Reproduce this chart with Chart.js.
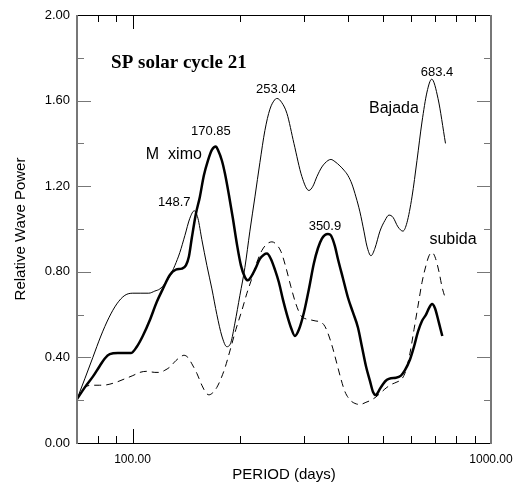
<!DOCTYPE html>
<html>
<head>
<meta charset="utf-8">
<script src="https://cdn.jsdelivr.net/npm/chart.js@4.4.0/dist/chart.umd.min.js"></script>
<style>
  html, body { margin: 0; padding: 0; background: #fff; }
  #wrap { width: 514px; height: 487px; position: relative; }
</style>
</head>
<body>
<div id="wrap"><canvas id="chart"></canvas></div>
<script>
// SP solar cycle 21 — wave power spectra, period in days (log axis)

// Bajada (thin solid)
const bajadaPeriod = [70, 73.6, 77.5, 81.6, 85.9, 90.4, 95.2, 100.2, 105.5, 111.0, 115.4, 119.2, 123.1, 127.1,
  131.3, 135.5, 140.0, 144.5, 148.7, 152.2, 156.1, 161.2, 166.5, 171.9, 177.5, 183.3, 188.1, 193.0, 199.3,
  205.8, 212.5, 219.5, 226.6, 234.0, 241.7, 249.6, 253.04, 261.0, 269.6, 282.0, 296.8, 310.5, 318.6, 326.9,
  337.5, 350.9, 357.6, 366.9, 378.9, 388.8, 398.9, 409.3, 420.0, 430.9, 442.1, 450.7, 462.5, 474.5, 490.0,
  506.0, 519.2, 532.7, 550.1, 568.1, 582.9, 602.0, 621.6, 641.9, 662.9, 683.4, 711.5, 746.5];
const bajadaPower = [0.205, 0.30, 0.40, 0.50, 0.585, 0.65, 0.69, 0.70, 0.70, 0.70, 0.71, 0.72, 0.745, 0.78,
  0.83, 0.89, 0.97, 1.05, 1.085, 1.05, 0.95, 0.83, 0.72, 0.60, 0.50, 0.45, 0.47, 0.56, 0.69,
  0.82, 0.99, 1.15, 1.31, 1.46, 1.56, 1.605, 1.61, 1.59, 1.54, 1.40, 1.245, 1.18, 1.20, 1.245,
  1.29, 1.32, 1.325, 1.315, 1.295, 1.275, 1.25, 1.21, 1.15, 1.08, 0.99, 0.92, 0.875, 0.91, 0.99,
  1.04, 1.065, 1.055, 1.01, 0.99, 1.03, 1.15, 1.32, 1.50, 1.64, 1.70, 1.61, 1.40];

// Máximo (thick solid)
const maximoPeriod = [70, 73.6, 77.5, 81.0, 83.7, 86.4, 91.0, 95.2, 98.9, 102.8, 106.8, 111.8, 116.9, 121.5,
  127.1, 132.1, 137.3, 140.9, 143.6, 146.4, 150.2, 154.1, 158.1, 162.3, 166.5, 170.85, 173.0, 177.5, 181.0,
  185.7, 190.5, 195.5, 200.6, 205.8, 209.8, 213.9, 219.5, 226.6, 232.5, 237.1, 243.2, 249.6, 256.1, 262.8,
  269.6, 276.6, 283.8, 291.2, 300.7, 310.5, 320.6, 329.0, 337.5, 344.1, 350.9, 357.6, 366.9, 374.1, 386.3,
  398.9, 412.0, 425.4, 436.5, 447.8, 459.5, 468.4, 477.6, 486.9, 499.5, 512.5, 525.9, 543.1, 560.8, 575.4,
  594.3, 609.8, 625.6, 641.9, 658.7, 671.5, 684.6, 697.8, 716.1, 731.4];
const maximoPower = [0.205, 0.26, 0.31, 0.36, 0.395, 0.415, 0.42, 0.42, 0.42, 0.45, 0.50, 0.575, 0.66, 0.72,
  0.785, 0.81, 0.815, 0.83, 0.87, 0.96, 1.07, 1.15, 1.25, 1.32, 1.37, 1.385, 1.37, 1.32, 1.26,
  1.16, 1.05, 0.93, 0.83, 0.775, 0.76, 0.775, 0.81, 0.86, 0.88, 0.885, 0.86, 0.81, 0.75, 0.67,
  0.60, 0.54, 0.50, 0.53, 0.61, 0.72, 0.84, 0.91, 0.955, 0.972, 0.977, 0.97, 0.92, 0.86, 0.77,
  0.68, 0.61, 0.54, 0.45, 0.36, 0.29, 0.24, 0.224, 0.245, 0.275, 0.295, 0.303, 0.305, 0.315, 0.34,
  0.39, 0.45, 0.52, 0.57, 0.60, 0.63, 0.65, 0.63, 0.56, 0.50];

// subida (dashed)
const subidaPeriod = [70, 72.2, 74.5, 77.5, 81.0, 84.8, 90.4, 95.2, 100.2, 104.8, 109.6, 115.4, 119.2, 123.1,
  127.1, 132.1, 135.5, 139.1, 142.7, 146.4, 151.2, 156.1, 160.2, 163.3, 167.5, 171.9, 176.4, 181.0, 186.9,
  194.2, 201.9, 208.5, 215.3, 222.3, 229.6, 237.1, 244.8, 251.2, 259.4, 267.9, 276.6, 285.6, 295.0, 304.6,
  314.5, 324.8, 335.4, 344.1, 353.1, 362.3, 371.7, 381.3, 391.3, 405.0, 417.3, 430.9, 447.8, 462.5, 477.6,
  496.3, 512.5, 529.3, 546.6, 564.5, 579.2, 594.3, 609.8, 625.6, 641.9, 658.7, 671.5, 684.6, 697.8, 716.1,
  730.0, 747.6];
const subidaPower = [0.205, 0.245, 0.265, 0.27, 0.27, 0.272, 0.285, 0.30, 0.315, 0.33, 0.335, 0.33, 0.33, 0.34,
  0.355, 0.385, 0.40, 0.41, 0.40, 0.37, 0.325, 0.27, 0.235, 0.225, 0.235, 0.26, 0.30, 0.35, 0.43,
  0.53, 0.62, 0.70, 0.77, 0.845, 0.90, 0.93, 0.94, 0.93, 0.895, 0.82, 0.73, 0.65, 0.595, 0.58,
  0.575, 0.57, 0.565, 0.545, 0.50, 0.44, 0.37, 0.30, 0.24, 0.20, 0.185, 0.18, 0.19, 0.20, 0.215,
  0.24, 0.26, 0.275, 0.285, 0.30, 0.34, 0.42, 0.53, 0.64, 0.75, 0.83, 0.875, 0.89, 0.87, 0.80,
  0.73, 0.67];

const xLabelTicks = [100, 1000];
const xMinorTicks = [80, 90, 200, 300, 400, 500, 600, 700, 800, 900];
const yMajorTicks = [0.4, 0.8, 1.2, 1.6];
const yMinorTicks = [0.2, 0.6, 1.0, 1.4, 1.8];

// text on the plot, anchored in data units (period, power)
const notes = [
  { text: 'SP solar cycle 21', x: 134.7, y: 1.776, font: 'bold 19px "Liberation Serif", serif' },
  { text: '170.85', x: 165.4, y: 1.456, font: '13px "Liberation Sans", Arial, sans-serif' },
  { text: 'M  ximo', x: 130.4, y: 1.346, font: '16px "Liberation Sans", Arial, sans-serif' },
  { text: '148.7', x: 130.8, y: 1.124, font: '13px "Liberation Sans", Arial, sans-serif' },
  { text: '253.04', x: 251.2, y: 1.654, font: '13px "Liberation Sans", Arial, sans-serif' },
  { text: '683.4', x: 706.9, y: 1.734, font: '13px "Liberation Sans", Arial, sans-serif' },
  { text: 'Bajada', x: 536.1, y: 1.561, font: '16px "Liberation Sans", Arial, sans-serif' },
  { text: '350.9', x: 344.1, y: 1.012, font: '13px "Liberation Sans", Arial, sans-serif' },
  { text: 'subida', x: 783.2, y: 0.949, font: '16px "Liberation Sans", Arial, sans-serif' },
];

const toPoints = (xs, ys) => xs.map((x, i) => ({ x, y: ys[i] }));

// ── frame, inward ticks and notes ──────────────────────────
const framePlugin = {
  id: 'frame',
  afterDatasetsDraw(chart) {
    const { ctx, chartArea: a, scales: { x, y } } = chart;
    ctx.save();
    const line = (x1, y1, x2, y2, color, w) => {
      ctx.strokeStyle = color;
      ctx.lineWidth = w;
      ctx.beginPath();
      ctx.moveTo(x1, y1);
      ctx.lineTo(x2, y2);
      ctx.stroke();
    };
    const gray = '#777';
    // x ticks, bottom and top
    xMinorTicks.concat(xLabelTicks).forEach(v => {
      const len = xLabelTicks.includes(v) ? 14 : 7;
      const px = Math.round(x.getPixelForValue(v)) + 0.5;
      line(px, a.bottom, px, a.bottom - len, '#000', 1);
      line(px, a.top, px, a.top + len, '#000', 1);
    });
    // y ticks, left and right
    yMinorTicks.concat(yMajorTicks).forEach(v => {
      const len = yMajorTicks.includes(v) ? 14 : 7;
      const py = Math.round(y.getPixelForValue(v)) + 0.5;
      line(a.left, py, a.left + len, py, gray, 1);
      line(a.right, py, a.right - len, py, gray, 1);
    });
    // box
    line(a.left, a.top + 0.5, a.right, a.top + 0.5, '#000', 1);
    line(a.left, a.bottom + 0.5, a.right, a.bottom + 0.5, '#000', 1);
    line(a.left, a.top, a.left, a.bottom + 1, gray, 2);
    line(a.right, a.top, a.right, a.bottom + 1, gray, 2);

    ctx.fillStyle = '#000';
    ctx.textAlign = 'center';
    ctx.textBaseline = 'middle';
    notes.forEach(n => {
      ctx.font = n.font;
      ctx.fillText(n.text, x.getPixelForValue(n.x), y.getPixelForValue(n.y));
    });
    ctx.restore();
  },
};

new Chart(document.getElementById('chart'), {
  type: 'line',
  data: {
    datasets: [{
      label: 'Bajada',
      data: toPoints(bajadaPeriod, bajadaPower),
      borderColor: '#000', borderWidth: 1,
    }, {
      label: 'Máximo',
      data: toPoints(maximoPeriod, maximoPower),
      borderColor: '#000', borderWidth: 2.5,
    }, {
      label: 'subida',
      data: toPoints(subidaPeriod, subidaPower),
      borderColor: '#000', borderWidth: 1, borderDash: [7, 5],
    }],
  },
  options: {
    responsive: true,
    maintainAspectRatio: false,
    animation: false,
    layout: { padding: { top: 15, right: 23, left: 0, bottom: 0 } },
    elements: {
      point: { radius: 0 },
      line: { cubicInterpolationMode: 'monotone', fill: false },
    },
    plugins: { legend: { display: false }, tooltip: { enabled: false } },
    scales: {
      x: {
        type: 'logarithmic',
        min: 70, max: 1000,
        grid: { display: false, drawTicks: false },
        border: { display: false },
        afterBuildTicks: s => { s.ticks = xLabelTicks.map(v => ({ value: v })); },
        afterFit: s => { s.height = 44; s.paddingLeft = 0; s.paddingRight = 0; },
        ticks: {
          color: '#000', padding: 9, maxRotation: 0, autoSkip: false,
          font: { family: '"Liberation Sans", Arial, sans-serif', size: 12 },
          callback: v => Number(v).toFixed(2),
        },
        title: {
          display: true, text: 'PERIOD (days)', color: '#000',
          font: { family: '"Liberation Sans", Arial, sans-serif', size: 15 },
          padding: { top: 0, bottom: 3 },
        },
      },
      y: {
        min: 0, max: 2,
        grid: { display: false, drawTicks: false },
        border: { display: false },
        afterFit: s => { s.width = 77; s.paddingTop = 0; s.paddingBottom = 0; },
        ticks: {
          stepSize: 0.4, color: '#000', padding: 7,
          font: { family: '"Liberation Sans", Arial, sans-serif', size: 13 },
          callback: v => Number(v).toFixed(2),
        },
        title: {
          display: true, text: 'Relative Wave Power', color: '#000',
          font: { family: '"Liberation Sans", Arial, sans-serif', size: 15 },
          padding: { top: 12, bottom: 0 },
        },
      },
    },
  },
  plugins: [framePlugin],
});
</script>
</body>
</html>
